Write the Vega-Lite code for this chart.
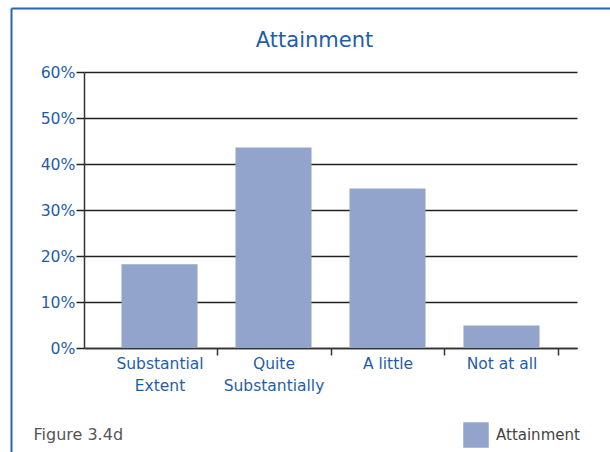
{
  "$schema": "https://vega.github.io/schema/vega-lite/v6.json",
  "width": 493,
  "height": 276,
  "autosize": "none",
  "padding": {"left": 84, "top": 72, "right": 33, "bottom": 104},
  "background": "white",
  "config": {"view": {"stroke": null}, "font": "DejaVu Sans"},
  "title": {"text": "Attainment", "fontSize": 21, "fontWeight": "normal", "color": "#1f5ea6", "anchor": "middle", "frame": "group", "dx": -16, "offset": -46},
  "resolve": {"scale": {"x": "independent", "y": "independent"}, "axis": {"x": "independent", "y": "independent"}},
  "layer": [
    {
      "data": {"values": [
        {"category": "Substantial Extent", "value": 0.182},
        {"category": "Quite Substantially", "value": 0.436},
        {"category": "A little", "value": 0.347},
        {"category": "Not at all", "value": 0.049}
      ]},
      "mark": {"type": "bar"},
      "encoding": {
        "x": {
          "field": "category", "type": "nominal", "sort": null,
          "scale": {"paddingInner": 0.333, "paddingOuter": 0.329},
          "axis": {
            "orient": "bottom",
            "title": "Figure 3.4d", "titleX": -51, "titleY": 91, "titleAlign": "left", "titleBaseline": "alphabetic", "titleAnchor": "start",
            "titleFontWeight": "normal", "titleFontSize": 16, "titleColor": "#555555",
            "labelAngle": 0, "labelColor": "#1f5ea6", "labelFontSize": 15.5, "labelLineHeight": 22, "labelPadding": 1,
            "labelExpr": "length(datum.label) > 12 ? split(datum.label, ' ') : datum.label",
            "tickOffset": 57, "labelOffset": -57,
            "domainColor": "#333333", "domainWidth": 1.5, "tickColor": "#333333", "tickWidth": 1.5, "tickSize": 7
          }
        },
        "y": {
          "field": "value", "type": "quantitative",
          "scale": {"domain": [0, 0.6]},
          "axis": {
            "orient": "left",
            "title": null, "format": "%", "values": [0, 0.1, 0.2, 0.3, 0.4, 0.5, 0.6],
            "labelColor": "#1f5ea6", "labelFontSize": 15.7, "labelPadding": 1,
            "gridColor": "#222222", "gridWidth": 1.5, "tickColor": "#222222", "tickWidth": 1.5, "tickSize": 8,
            "domainColor": "#333333", "domainWidth": 1.5
          }
        },
        "color": {
          "datum": "Attainment", "type": "nominal",
          "scale": {"range": ["#92a3cc"]},
          "legend": {
            "title": null, "orient": "none", "legendX": 379, "legendY": 350, "padding": 0,
            "symbolType": "square", "symbolSize": 650, "symbolStrokeWidth": 0,
            "labelFontSize": 15, "labelColor": "#444444", "labelOffset": 7
          }
        }
      }
    },
    {
      "data": {"values": [{"frame": 0}, {"frame": 1}]},
      "mark": {"type": "point", "opacity": 0},
      "encoding": {
        "x": {
          "field": "frame", "type": "quantitative",
          "scale": {"domain": [0, 1], "range": [-73, 560], "nice": false, "zero": false},
          "axis": {"orient": "top", "offset": 64, "title": null, "labels": false, "ticks": false, "grid": false, "domainColor": "#2a64ad", "domainWidth": 2}
        },
        "y": {
          "field": "frame", "type": "quantitative",
          "scale": {"domain": [0, 1], "range": [420, -64], "nice": false, "zero": false},
          "axis": {"orient": "left", "offset": 73, "title": null, "labels": false, "ticks": false, "grid": false, "domainColor": "#2a64ad", "domainWidth": 2}
        }
      }
    }
  ]
}
